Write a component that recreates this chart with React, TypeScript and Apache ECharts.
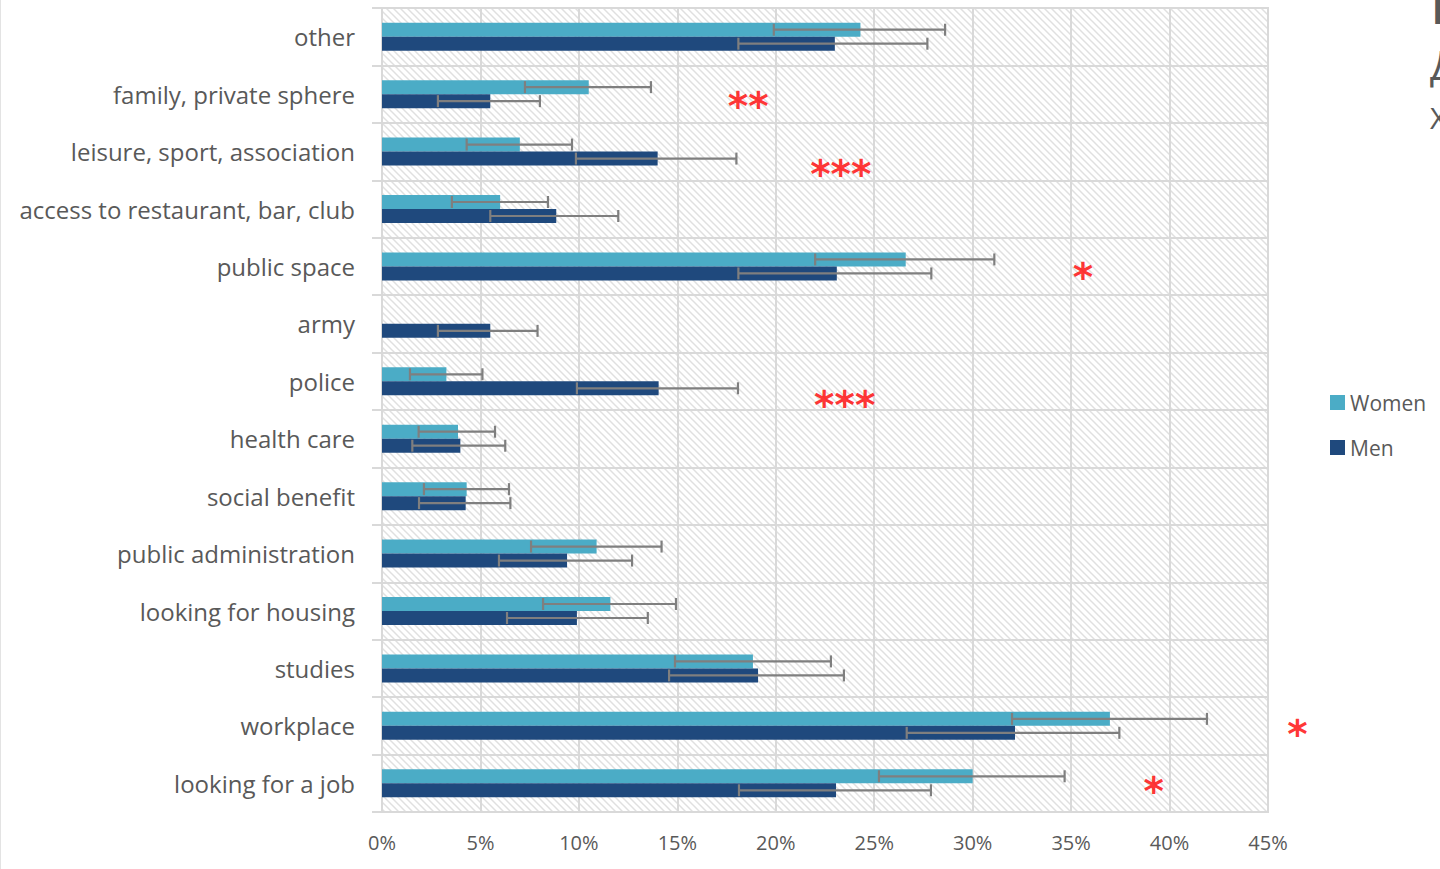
import React, { useEffect, useRef } from "react";
import * as echarts from "echarts";

const categories = [
  "other",
  "family, private sphere",
  "leisure, sport, association",
  "access to restaurant, bar, club",
  "public space",
  "army",
  "police",
  "health care",
  "social benefit",
  "public administration",
  "looking for housing",
  "studies",
  "workplace",
  "looking for a job",
];

const womenValues = [24.3, 10.5, 7.0, 6.0, 26.6, 0, 3.27, 3.86, 4.3, 10.9, 11.6, 18.84, 36.97, 30.0];
const womenLow = [19.9, 7.26, 4.3, 3.55, 22.0, null, 1.42, 1.86, 2.13, 7.57, 8.18, 14.88, 32.0, 25.24];
const womenHigh = [28.6, 13.66, 9.65, 8.43, 31.1, null, 5.1, 5.74, 6.45, 14.2, 14.93, 22.8, 41.9, 34.67];

const menValues = [23.0, 5.5, 14.0, 8.85, 23.1, 5.5, 14.05, 3.98, 4.25, 9.4, 9.9, 19.1, 32.15, 23.06];
const menLow = [18.1, 2.84, 9.85, 5.5, 18.1, 2.84, 9.9, 1.54, 1.88, 5.94, 6.35, 14.58, 26.65, 18.13];
const menHigh = [27.7, 8.02, 18.0, 12.0, 27.9, 7.9, 18.08, 6.26, 6.52, 12.7, 13.5, 23.46, 37.45, 27.88];

const xTicks = [0, 5, 10, 15, 20, 25, 30, 35, 40, 45];

// significance markers: category, x position (%), text
const sigCategories = ["family, private sphere", "leisure, sport, association", "public space", "police", "workplace", "looking for a job"];
const sigX = [18.6, 23.3, 35.6, 23.5, 46.5, 39.2];
const sigText = ["**", "***", "*", "***", "*", "*"];
const sigDy = [12, 23, 11, 24, 9, 8];

const WOMEN_COLOR = "#4BACC6";
const MEN_COLOR = "#1F497D";
const BAR_W = 14;

function makeHatch(): string {
  const c = document.createElement("canvas");
  const s = 7;
  c.width = s;
  c.height = s;
  const ctx = c.getContext("2d")!;
  ctx.fillStyle = "#ffffff";
  ctx.fillRect(0, 0, s, s);
  ctx.strokeStyle = "#e0e0e0";
  ctx.lineWidth = 1.5;
  ctx.beginPath();
  ctx.moveTo(-1, -1);
  ctx.lineTo(s + 1, s + 1);
  ctx.moveTo(-1, s - 1);
  ctx.lineTo(1, s + 1);
  ctx.moveTo(s - 1, -1);
  ctx.lineTo(s + 1, 1);
  ctx.stroke();
  return c.toDataURL();
}

function errorSeries(name: string, low: (number | null)[], high: (number | null)[], offset: number) {
  const data = categories.map((_, i) => [i, low[i], high[i]]);
  return {
    type: "custom",
    name: name + " error",
    silent: true,
    z: 5,
    data: data.filter((d) => d[1] != null),
    encode: { x: [1, 2], y: 0 },
    renderItem: (params: any, api: any) => {
      const cat = api.value(0);
      const lo = api.coord([api.value(1), cat]);
      const hi = api.coord([api.value(2), cat]);
      const y = lo[1] + offset;
      const cap = 6;
      const style = { stroke: "#7f7f7f", lineWidth: 2.2 };
      return {
        type: "group",
        children: [
          { type: "line", shape: { x1: lo[0], y1: y, x2: hi[0], y2: y }, style },
          { type: "line", shape: { x1: lo[0], y1: y - cap, x2: lo[0], y2: y + cap }, style },
          { type: "line", shape: { x1: hi[0], y1: y - cap, x2: hi[0], y2: y + cap }, style },
        ],
      };
    },
  };
}

export default function App() {
  const ref = useRef<HTMLDivElement>(null);
  useEffect(() => {
    if (!ref.current) return;
    const chart = echarts.init(ref.current, null, { renderer: "svg" });
    const hatch = makeHatch();
    const font = "'Open Sans', Lato, sans-serif";
    const option: any = {
      animation: false,
      backgroundColor: "#ffffff",
      grid: {
        left: 382,
        right: 172,
        top: 8,
        bottom: 57,
        show: true,
        backgroundColor: { image: hatch, repeat: "repeat" },
        borderColor: "#d9d9d9",
        borderWidth: 2,
      },
      legend: {
        orient: "vertical",
        left: 1330,
        top: 392,
        padding: 0,
        itemWidth: 15,
        itemHeight: 15,
        itemGap: 24,
        icon: "rect",
        data: ["Women", "Men"],
        textStyle: { color: "#595959", fontSize: 21, fontFamily: font },
      },
      xAxis: {
        type: "value",
        min: 0,
        max: 45,
        interval: 5,
        axisLine: { show: false },
        axisTick: { show: false },
        splitLine: { show: true, lineStyle: { color: "#d9d9d9", width: 2 } },
        axisLabel: {
          color: "#595959",
          fontSize: 20,
          fontFamily: font,
          margin: 20,
          formatter: (v: number) => (xTicks.includes(v) ? v + "%" : ""),
        },
      },
      yAxis: {
        type: "category",
        inverse: true,
        data: categories,
        axisLine: { show: true, lineStyle: { color: "#d9d9d9", width: 2 } },
        axisTick: { show: true, length: 10, lineStyle: { color: "#d9d9d9", width: 2 } },
        splitLine: { show: true, lineStyle: { color: "#d9d9d9", width: 2 } },
        axisLabel: { color: "#595959", fontSize: 24, fontFamily: font, margin: 27 },
      },
      series: [
        {
          type: "bar",
          name: "Women",
          data: womenValues,
          barWidth: BAR_W,
          barGap: "0%",
          itemStyle: { color: WOMEN_COLOR },
          z: 3,
        },
        {
          type: "bar",
          name: "Men",
          data: menValues,
          barWidth: BAR_W,
          barGap: "0%",
          itemStyle: { color: MEN_COLOR },
          z: 3,
        },
        errorSeries("Women", womenLow, womenHigh, -BAR_W / 2),
        errorSeries("Men", menLow, menHigh, BAR_W / 2),
        {
          type: "scatter",
          name: "sig",
          silent: true,
          clip: false,
          symbolSize: 1,
          itemStyle: { color: "rgba(0,0,0,0)" },
          z: 10,
          data: sigCategories.map((c, i) => ({
            value: [sigX[i], c],
            label: { formatter: sigText[i], offset: [0, sigDy[i]] },
          })),
          label: {
            show: true,
            position: "inside",
            color: "#ff0000",
            fontSize: 39,
            fontWeight: "bold",
            fontFamily: "'DejaVu Sans', sans-serif",
          },
        },
      ],
      graphic: [
        { type: "line", shape: { x1: 0.5, y1: 0, x2: 0.5, y2: 869 }, style: { stroke: "#e3e3e3", lineWidth: 1 } },
        { type: "text", left: 1432, top: -8, style: { text: "I", fontSize: 36, fontWeight: "bold", fill: "#595959", fontFamily: font } },
        { type: "text", left: 1430, top: 44, style: { text: "Д", fontSize: 40, fill: "#595959", fontFamily: font } },
        { type: "text", left: 1430, top: 102, style: { text: "Х", fontSize: 30, fill: "#595959", fontFamily: font } },
      ],
    };
    chart.setOption(option);
    return () => chart.dispose();
  }, []);
  return <div ref={ref} style={{ position: "fixed", left: 0, top: 0, width: 1440, height: 869 }} />;
}
